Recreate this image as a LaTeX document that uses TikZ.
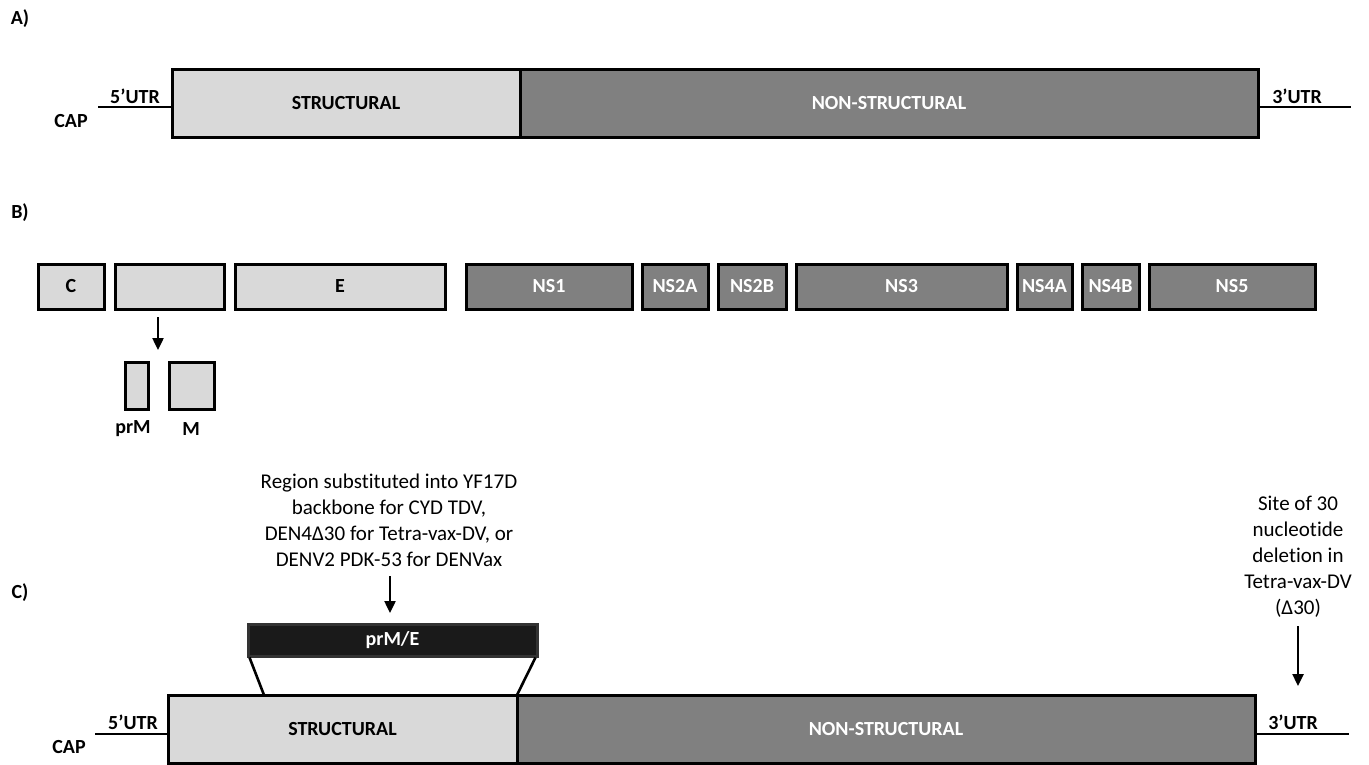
\documentclass[tikz,border=0pt]{standalone}
\usepackage{fontspec}
\setmainfont{Carlito}[Ligatures=NoCommon]
\usetikzlibrary{arrows.meta}
\definecolor{lgray}{HTML}{D9D9D9}
\definecolor{dgray}{HTML}{808080}
\definecolor{nearblack}{HTML}{1A1A1A}
\tikzset{
  seg/.style={draw=black, line width=3pt, inner sep=0pt, font=\fontsize{20}{24}\selectfont\bfseries},
  light/.style={seg, fill=lgray, text=black},
  dark/.style={seg, fill=dgray, text=white},
  lbl/.style={font=\fontsize{20}{24}\selectfont\bfseries, inner sep=0pt},
  ann/.style={font=\fontsize{21}{26}\selectfont, align=center, inner sep=0pt},
  utr/.style={line width=2.6pt},
  arr/.style={line width=2.4pt, -{Triangle[length=12pt,width=11pt]}},
  trap/.style={line width=2.6pt}
}
\begin{document}
\begin{tikzpicture}[x=1pt,y=-1pt]
\useasboundingbox (0,0) rectangle (1369,764);
% ---------- A ----------
\node[lbl] (labA) at (20,19) {A)};
\node[light, minimum width=348pt, minimum height=68pt] (sA) at (346,103) {STRUCTURAL};
\node[dark, minimum width=738pt, minimum height=68pt] (nA) at (889,103) {NON-STRUCTURAL};
\coordinate (capA) at (98,107);
\coordinate (endA) at (1351,107);
\draw[utr] (capA) -- (sA.west |- capA);
\draw[utr] (nA.east |- endA) -- (endA);
\node[lbl] (capAt) at (71,121) {CAP};
\node[lbl] (utr5A) at (135,96) {5’UTR};
\node[lbl] (utr3A) at (1297,96) {3’UTR};
% ---------- B ----------
\node[lbl] (labB) at (20,213) {B)};
\node[light, minimum width=66pt, minimum height=45pt] (bC) at (71,286.5) {C};
\node[light, minimum width=109pt, minimum height=45pt] (bprM) at (169.5,286.5) {};
\node[light, minimum width=210pt, minimum height=45pt] (bE) at (340,286.5) {E};
\node[dark, minimum width=166pt, minimum height=45pt] (bNS1) at (549,286.5) {NS1};
\node[dark, minimum width=66pt, minimum height=45pt] (bNS2A) at (675,286.5) {NS2A};
\node[dark, minimum width=68pt, minimum height=45pt] (bNS2B) at (752,286.5) {NS2B};
\node[dark, minimum width=211pt, minimum height=45pt] (bNS3) at (901.5,286.5) {NS3};
\node[dark, minimum width=55pt, minimum height=45pt] (bNS4A) at (1044.5,286.5) {NS4A};
\node[dark, minimum width=57pt, minimum height=45pt] (bNS4B) at (1110.5,286.5) {NS4B};
\node[dark, minimum width=166pt, minimum height=45pt] (bNS5) at (1232,286.5) {NS5};
\coordinate (prMarrowA) at (158,317);
\coordinate (prMarrowB) at (158,350);
\draw[arr] (prMarrowA) -- (prMarrowB);
\node[light, minimum width=23pt, minimum height=47pt] (bprMs) at (136.5,385.5) {};
\node[light, minimum width=45pt, minimum height=47pt] (bM) at (191.5,385.5) {};
\node[lbl] (tprM) at (133,429) {prM};
\node[lbl] (tM) at (191,429) {M};
% ---------- C ----------
\node[lbl] (labC) at (20,593) {C)};
\node[ann] (annL) at (389,520) {Region substituted into YF17D\\backbone for CYD TDV,\\DEN4Δ30 for Tetra-vax-DV, or\\DENV2 PDK-53 for DENVax};
\coordinate (arLa) at (390,576);
\coordinate (arLb) at (390,613);
\draw[arr] (arLa) -- (arLb);
\node[seg, fill=nearblack, draw=black!80, text=white, minimum width=289pt, minimum height=32pt] (pme) at (392.5,640) {prM/E};
\node[light, minimum width=349pt, minimum height=68pt] (sC) at (342.5,729) {STRUCTURAL};
\node[dark, minimum width=738pt, minimum height=68pt] (nC) at (886,729) {NON-STRUCTURAL};
\coordinate (trL) at (264,695);
\coordinate (trR) at (517,695);
\draw[trap] ([xshift=3pt]pme.south west) -- (trL);
\draw[trap] ([xshift=-3pt]pme.south east) -- (trR);
\coordinate (capC) at (95,734);
\coordinate (endC) at (1349,734);
\draw[utr] (capC) -- (sC.west |- capC);
\draw[utr] (nC.east |- endC) -- (endC);
\node[lbl] (capCt) at (69,747) {CAP};
\node[lbl] (utr5C) at (133,722) {5’UTR};
\node[lbl] (utr3C) at (1293,722) {3’UTR};
\node[ann] (annR) at (1298,557) {Site of 30\\nucleotide\\deletion in\\Tetra-vax-DV\\(Δ30)};
\coordinate (arRa) at (1298,626);
\coordinate (arRb) at (1298,686);
\draw[arr] (arRa) -- (arRb);
\end{tikzpicture}
\end{document}
